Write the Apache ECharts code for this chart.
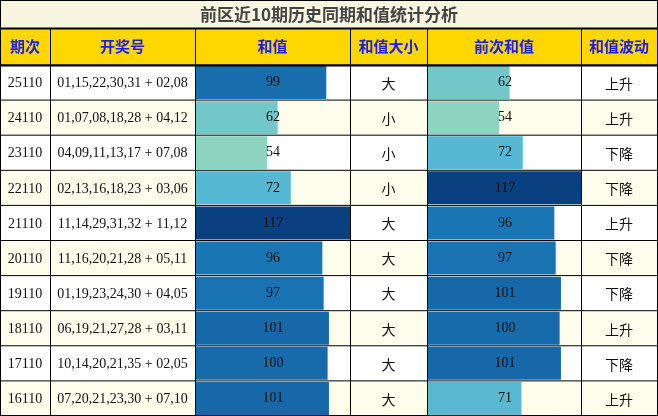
<!DOCTYPE html>
<html><head><meta charset="utf-8">
<script src="https://cdn.jsdelivr.net/npm/echarts@6/dist/echarts.min.js"></script>
<style>html,body{margin:0;padding:0;background:#fff}#c{width:658px;height:416px}</style>
</head><body><div id="c"></div>
<script>
var periods = ['25110','24110','23110','22110','21110','20110','19110','18110','17110','16110'];
var draws = ['01,15,22,30,31 + 02,08','01,07,08,18,28 + 04,12','04,09,11,13,17 + 07,08','02,13,16,18,23 + 03,06','11,14,29,31,32 + 11,12','11,16,20,21,28 + 05,11','01,19,23,24,30 + 04,05','06,19,21,27,28 + 03,11','10,14,20,21,35 + 02,05','07,20,21,23,30 + 07,10'];
var sums = [99,62,54,72,117,96,97,101,100,101];
var sizes = ['大','小','小','小','大','大','大','大','大','大'];
var prevSums = [62,54,72,117,96,97,101,100,101,71];
var trends = ['上升','上升','下降','下降','上升','下降','下降','上升','下降','上升'];
var headers = ['期次','开奖号','和值','和值大小','前次和值','和值波动'];
var title = '前区近10期历史同期和值统计分析';

var cols = [0,50,195,350,427,581,657];
var top0 = 28, headH = 37, rowH = 35.1, W = 658, H = 416;
var maxV = 117;

var g = [];
g.push({type:'rect',z:0,shape:{x:0,y:0,width:W,height:top0},style:{fill:'#f8f6e0'}});
g.push({type:'text',z:5,style:{text:title,x:W/2,y:top0/2+1,align:'center',verticalAlign:'middle',font:'bold 17px "Noto Sans CJK SC"',fill:'#444'}});
g.push({type:'rect',z:0,shape:{x:0,y:top0,width:W,height:headH},style:{fill:'#ffd700'}});
headers.forEach(function(h,i){
  g.push({type:'text',z:5,style:{text:h,x:(cols[i]+cols[i+1])/2,y:top0+headH/2,align:'center',verticalAlign:'middle',font:'bold 15px "Noto Sans CJK SC"',fill:'#1a1aff'}});
});
var y0 = top0+headH;
periods.forEach(function(p,r){
  var y = y0 + r*rowH, cy = y+rowH/2;
  g.push({type:'rect',z:0,shape:{x:0,y:y,width:W,height:rowH},style:{fill:r%2?'#fffdeb':'#ffffff'}});
  var cells = [p,draws[r],null,sizes[r],null,trends[r]];
  cells.forEach(function(t,i){
    if(t===null) return;
    var cjk = i>=3;
    g.push({type:'text',z:5,style:{text:t,x:(cols[i]+cols[i+1])/2,y:cy+1,align:'center',verticalAlign:'middle',font:(cjk?'14px "Noto Sans CJK SC"':'14px "Liberation Serif"'),fill:'#111'}});
  });
  g.push({type:'line',z:6,shape:{x1:0,y1:y,x2:W,y2:y},style:{stroke:'#000',lineWidth:1}});
});
[0,top0,y0,H-1].forEach(function(y){g.push({type:'line',z:6,shape:{x1:0,y1:y+0.5,x2:W,y2:y+0.5},style:{stroke:'#000',lineWidth:y===top0||y===y0?2:1}});});
cols.forEach(function(x,i){
  g.push({type:'line',z:6,shape:{x1:x+0.5,y1:i===0||i===cols.length-1?0:top0,x2:x+0.5,y2:H},style:{stroke:'#000',lineWidth:1}});
});

function grid(left){return {left:left+1,width:154,top:y0,height:H-y0,containLabel:false};}
function xa(i){return {gridIndex:i,type:'value',min:0,max:maxV,show:false};}
function ya(i){return {gridIndex:i,type:'category',data:periods,inverse:true,show:false};}
function bars(i,data){
  return [{type:'bar',xAxisIndex:i,yAxisIndex:i,data:data,barWidth:33,z:2,label:{show:false}},
  {type:'bar',xAxisIndex:i,yAxisIndex:i,data:data.map(function(){return maxV;}),barWidth:33,barGap:'-100%',z:3,
   itemStyle:{color:'rgba(0,0,0,0)'},
   label:{show:true,position:'inside',fontFamily:'Liberation Serif',fontSize:14,color:'#111',
     formatter:function(pp){return data[pp.dataIndex];}}}];
}
var chart = echarts.init(document.getElementById('c'));
chart.setOption({
  animation:false,
  grid:[grid(cols[2]),grid(cols[4])],
  xAxis:[xa(0),xa(1)],
  yAxis:[ya(0),ya(1)],
  visualMap:{show:false,type:'continuous',min:54,max:117,seriesIndex:[0,2],dimension:0,
    inRange:{color:['#8cd4c0','#4db3d5','#1a75b5','#0a3f80']}},
  series:bars(0,sums).concat(bars(1,prevSums)),
  graphic:g
});
</script></body></html>
